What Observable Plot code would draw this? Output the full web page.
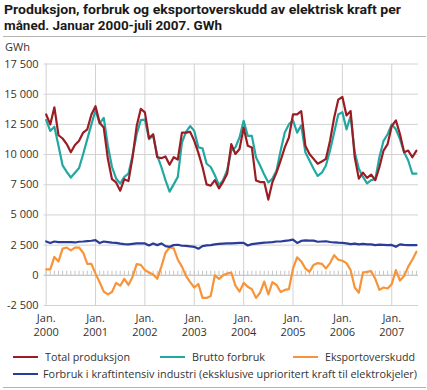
<!DOCTYPE html>
<html><head><meta charset="utf-8">
<script src="https://cdn.jsdelivr.net/npm/d3@7"></script>
<script src="https://cdn.jsdelivr.net/npm/@observablehq/plot@0.6"></script>
<style>
body{margin:0;background:#fff}
#wrap{position:relative;width:427px;height:390px;overflow:hidden;font-family:"Open Sans",sans-serif;color:#1a1a1a;background:#fff}
.abs{position:absolute;white-space:nowrap}
.fit{display:inline-block;transform-origin:0 50%;white-space:nowrap}
.sw{position:absolute;width:25px;height:2px}
.lg{position:absolute;font-size:11px;line-height:14px;color:#333;white-space:nowrap}
.ttl{position:absolute;left:4px;font-family:Roboto,"Open Sans",sans-serif;font-size:13.5px;font-weight:700;line-height:16px;color:#1a1a1a;white-space:nowrap}
</style></head><body>
<div id="wrap">
  <div id="chart" class="abs" style="left:0;top:0"></div>
  <div class="ttl" style="top:1px"><span class="fit" data-w="397">Produksjon, forbruk og eksportoverskudd av elektrisk kraft per</span></div>
  <div class="ttl" style="top:17px"><span class="fit" data-w="218">måned. Januar 2000-juli 2007. GWh</span></div>
  <div class="abs" style="left:3px;top:36px;width:423px;height:1px;background:#b4b4b4"></div>
  <div class="abs" style="left:5px;top:40px;font-size:11px;line-height:14px;color:#333">GWh</div>
  <div id="legend"></div>
  <div class="abs" style="left:3px;top:387px;width:423px;height:1px;background:#b4b4b4"></div>
</div>
<script>
// ---- data (monthly, Jan 2000 - Jul 2007), GWh ----
const seriesNames = ["Total produksjon", "Brutto forbruk", "Eksportoverskudd",
  "Forbruk i kraftintensiv industri (eksklusive uprioritert kraft til elektrokjeler)"];
const seriesColors = ["#9c1c24", "#22a8a2", "#f7943a", "#283c98"];
const yearLabels = ["2000","2001","2002","2003","2004","2005","2006","2007"];
const monthLabel = "Jan.";
const yTicks = [-2500, 0, 2500, 5000, 7500, 10000, 12500, 15000, 17500];

const totalProduksjon = [
  13320,12500,13910,11600,11330,10870,10190,10790,11140,11820,12090,13320,
  14000,12640,12230,9650,7960,7690,7010,7960,7800,9780,12360,13780,
  13500,11350,11680,9780,9700,9840,9160,9780,9590,11820,11820,11880,
  11140,10140,8970,7530,7420,7880,7200,7740,8420,10870,10050,10460,
  12230,10730,10590,7860,7720,7720,6270,7720,8530,9510,10590,11410,
  13320,13320,13600,10730,10050,9640,9240,9430,9640,11140,13050,14550,
  14770,13240,13600,9780,8010,8500,8070,8340,7880,8970,10330,10870,
  12360,12830,11680,10190,10330,9780,10330];
const bruttoForbruk = [
  12850,11960,12310,10730,9100,8560,8100,8500,8890,10050,11280,12500,
  13670,12580,13040,10730,8970,8020,7600,8150,8420,9920,11680,12850,
  12900,11280,11600,9920,8970,7880,6930,7530,8150,11000,11880,12360,
  11960,10600,10520,9240,8970,8290,7470,7880,8700,10330,10600,11410,
  12800,11550,11550,9780,9100,8340,7690,8010,8690,10330,11820,12500,
  12830,11820,12420,10190,9510,8830,8230,8500,9100,10330,11820,13320,
  13510,12090,13190,10190,8830,8150,7610,7880,7960,9780,11140,11680,
  12500,12090,11280,10190,9510,8420,8420];
const eksportoverskudd = [
  490,490,1520,1150,2210,2300,2070,2300,2300,1870,950,950,
  140,-570,-1350,-1580,-1380,-630,-860,-290,-800,-140,920,860,
  430,230,60,-290,720,1870,2300,2240,1290,720,-60,-570,
  -1010,-720,-1870,-1870,-1720,0,-290,0,140,230,-860,-1350,
  -630,-950,-1150,-1870,-1440,-520,-1580,-570,-800,-1380,-1210,-1150,
  570,1490,1150,570,290,860,1010,950,570,1010,1670,1290,
  1210,1010,430,-1010,-1440,230,290,340,-290,-1210,-1010,-1090,
  -720,430,-430,-60,720,1290,1950];
const kraftintensivIndustri = [
  2800,2670,2800,2750,2750,2750,2750,2720,2780,2800,2830,2860,
  2920,2670,2800,2750,2700,2690,2620,2580,2560,2610,2640,2640,
  2640,2470,2640,2500,2640,2420,2360,2500,2530,2450,2440,2400,
  2360,2200,2420,2480,2500,2560,2600,2620,2640,2640,2660,2680,
  2690,2470,2580,2620,2660,2700,2720,2750,2800,2800,2850,2890,
  2950,2680,2850,2890,2880,2870,2780,2800,2820,2760,2720,2700,
  2690,2650,2580,2620,2560,2600,2560,2560,2500,2540,2520,2500,
  2520,2360,2560,2520,2500,2500,2500];

// ---- build table ----
const seriesValues = [totalProduksjon, bruttoForbruk, eksportoverskudd, kraftintensivIndustri];
const drawOrder = [1, 0, 2, 3];
const rows = [];
for (const s of drawOrder) seriesValues[s].forEach((v, i) => rows.push({i, v, series: seriesNames[s]}));
const monthIdx = d3.range(totalProduksjon.length);
const janIdx = yearLabels.map((_, k) => k * 12);
const fmtY = d => (d < 0 ? "-" : "") + d3.format(",")(Math.abs(d)).replace(/,/g, " ");

const chart = Plot.plot({
  width: 427, height: 390,
  marginLeft: 43.6, marginRight: 9, marginTop: 63.5, marginBottom: 85,
  style: {fontFamily: '"Open Sans", sans-serif', fontSize: "11px", color: "#333", background: "transparent"},
  x: {domain: [-0.5, totalProduksjon.length - 0.5], label: null},
  y: {domain: [-2500, 17500], label: null},
  color: {domain: seriesNames, range: seriesColors},
  marks: [
    Plot.gridY(yTicks, {stroke: "#d2d2d2", strokeOpacity: 1}),
    Plot.gridX(janIdx, {stroke: "#d2d2d2", strokeOpacity: 1}),
    Plot.ruleY([0], {stroke: "#c4c4c4"}),
    Plot.ruleX(monthIdx, {x: d => d, y1: 0, y2: 340, stroke: "#c4c4c4"}),
    Plot.axisY(yTicks, {tickSize: 0, tickPadding: 5.5, tickFormat: fmtY, label: null, fill: "#333", fontSize: 11}),
    Plot.axisX(janIdx, {tickSize: 0, tickPadding: 9, label: null, fill: "#333", fontSize: 11,
      tickFormat: () => monthLabel}),
    Plot.axisX(janIdx, {tickSize: 0, tickPadding: 22.5, label: null, fill: "#333", fontSize: 11,
      tickFormat: i => yearLabels[i / 12]}),
    Plot.lineY(rows, {x: "i", y: "v", z: "series", stroke: "series", strokeWidth: 2.2})
  ]
});
document.getElementById("chart").appendChild(chart);

// ---- legend ----
const legendLayout = [
  {x: 13, y: 357, tx: 45, w: 85},
  {x: 160, y: 357, tx: 192, w: 73},
  {x: 293, y: 357, tx: 325, w: 90},
  {x: 13, y: 374, tx: 43, w: 374}
];
const lg = document.getElementById("legend");
seriesNames.forEach((name, k) => {
  const L = legendLayout[k];
  const sw = document.createElement("div");
  sw.className = "sw";
  sw.style.left = L.x + "px"; sw.style.top = (L.y - 1) + "px"; sw.style.background = seriesColors[k];
  lg.appendChild(sw);
  const t = document.createElement("div");
  t.className = "lg";
  t.style.left = L.tx + "px"; t.style.top = (L.y - 7.5) + "px";
  const sp = document.createElement("span");
  sp.className = "fit"; sp.dataset.w = L.w; sp.textContent = name;
  t.appendChild(sp);
  lg.appendChild(t);
});

function fitAll() {
  document.querySelectorAll(".fit").forEach(el => {
    el.style.transform = "none";
    const nat = el.getBoundingClientRect().width;
    const w = +el.dataset.w;
    if (nat > 0 && w > 0) el.style.transform = `scaleX(${w / nat})`;
  });
}
fitAll();
if (document.fonts && document.fonts.ready) document.fonts.ready.then(fitAll);
</script>
</body></html>
